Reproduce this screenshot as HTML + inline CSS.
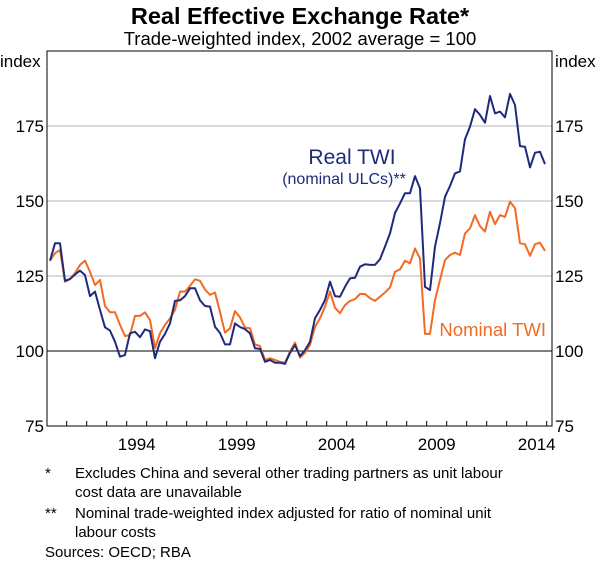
<!DOCTYPE html>
<html><head><meta charset="utf-8"><style>
body{margin:0;background:#fff;}
svg{display:block;font-family:"Liberation Sans",Arial,sans-serif;}
</style></head><body>
<svg id="chart" width="600" height="564" viewBox="0 0 600 564">
<text x="300" y="24" text-anchor="middle" font-size="23.5" font-weight="bold" fill="#000">Real Effective Exchange Rate*</text>
<text x="300" y="45" text-anchor="middle" font-size="18.5" fill="#000">Trade-weighted index, 2002 average = 100</text>
<text x="0" y="67" font-size="17" fill="#000">index</text>
<text x="555" y="67" font-size="17" fill="#000">index</text>
<g id="grid"></g>
<g id="series"></g>
<rect x="47" y="51" width="505" height="375" fill="none" stroke="#000" stroke-width="1"/>
<g id="axes"></g>
<text x="352" y="164" text-anchor="middle" font-size="21" fill="#1f2a7a">Real TWI</text>
<text x="344" y="184" text-anchor="middle" font-size="16" fill="#1f2a7a">(nominal ULCs)**</text>
<text x="546" y="336" text-anchor="end" font-size="18.5" fill="#f26a24">Nominal TWI</text>
<g font-size="15" fill="#000">
<text x="45" y="478">*</text>
<text x="75" y="478">Excludes China and several other trading partners as unit labour</text>
<text x="75" y="497">cost data are unavailable</text>
<text x="45" y="518">**</text>
<text x="75" y="518">Nominal trade-weighted index adjusted for ratio of nominal unit</text>
<text x="75" y="537">labour costs</text>
<text x="45" y="557">Sources:  OECD; RBA</text>
</g>
</svg>
<script>
const yTicks = [75, 100, 125, 150, 175];
const xTickLabels = [1994, 1999, 2004, 2009, 2014];
const startYear = 1990.165;
const realTWI = [130.1,135.9,135.9,123.4,124,125.5,126.8,125.3,118.3,119.8,113.7,107.9,106.8,103.1,98.1,98.7,105.9,106.4,104.6,107.2,106.6,97.6,103.1,105.7,109.2,116.7,116.9,118.3,120.9,120.9,116.9,115,114.8,108.1,106,102.2,102.2,109.2,108,107.3,105.9,100.9,100.7,96.4,97,96.1,96.1,95.7,99.4,102,98.3,100.3,103.1,110.9,113.7,117,123.1,118.3,118.1,121.4,124.2,124.4,128.1,128.9,128.7,128.7,130.6,134.8,139.2,146,149.2,152.6,152.6,158.3,154.2,121.4,120.3,134.8,142.6,151.4,155,159.2,159.9,170.6,174.8,180.6,178.7,176.1,185,179.2,179.8,177.9,185.7,182,168.3,168.1,161.2,166.1,166.4,162.3];
const nominalTWI = [130.1,132.6,133.7,123.1,124,125.9,128.7,130.1,126.4,122,123.7,115,112.9,112.9,108.7,105,105.3,111.7,111.7,112.9,110.3,101,105.9,108.7,110.9,113.7,119.8,119.8,121.7,123.9,123.4,120.5,118.7,119.5,113,106.1,107.6,113.3,111.2,107.8,107.6,102.2,101.7,97,97.6,97,96.4,96.1,99.8,102.8,97.8,99.4,102,108.1,110.9,114.8,119.8,114.4,112.6,115.3,116.7,117.3,119,119,117.6,116.7,118.1,119.5,121.2,126.4,127.2,130.1,129.2,134.2,130.8,105.7,105.7,117,123.7,130.3,132,132.8,132,139.2,140.9,145.3,141.6,139.8,146.4,142.3,145.3,144.7,149.8,147.6,135.9,135.6,131.7,135.6,136.1,133.4];

const NS = "http://www.w3.org/2000/svg";
function xs(t){ return 126.7 + (t - 1994) * 20; }
function ys(v){ return 351 - (v - 100) * 3; }
function mk(tag, attrs, parent){ const e = document.createElementNS(NS, tag); for (const k in attrs) e.setAttribute(k, attrs[k]); parent.appendChild(e); return e; }

const grid = document.getElementById('grid');
const axes = document.getElementById('axes');
yTicks.forEach(v => {
  if (v > 75) {
    const ln = mk('line', {x1:47, x2:552, y1:ys(v), y2:ys(v), stroke: v === 100 ? '#000' : '#b4b4b4', 'stroke-width':1}, grid);
    
    
  }
  const l = mk('text', {x:44, y:ys(v)+6, 'text-anchor':'end', 'font-size':17, fill:'#000'}, axes);
  l.textContent = v;
  
  
  const r = mk('text', {x:555, y:ys(v)+6, 'font-size':17, fill:'#000'}, axes);
  r.textContent = v;
  
  
});
for (let yr = 1991; yr <= 2015; yr++) {
  const tk = mk('line', {x1:xs(yr), x2:xs(yr), y1:426, y2:421, stroke:'#000', 'stroke-width':1}, axes);
  
  
}
xTickLabels.forEach(yr => {
  const t = mk('text', {x:xs(yr + 0.5), y:450, 'text-anchor':'middle', 'font-size':17, fill:'#000'}, axes);
  t.textContent = yr;
  
  
});

const series = document.getElementById('series');
function drawLine(vals, color, name){
  const d = vals.map((v,i) => (i ? 'L' : 'M') + xs(startYear + i*0.25).toFixed(1) + ',' + ys(v).toFixed(1)).join(' ');
  const p = mk('path', {d:d, fill:'none', stroke:color, 'stroke-width':2, 'stroke-linejoin':'round'}, series);
  
  
}
drawLine(nominalTWI, '#f26a24', 'nominal-twi-line');
drawLine(realTWI, '#1f2a7a', 'real-twi-line');
</script>
</body></html>
